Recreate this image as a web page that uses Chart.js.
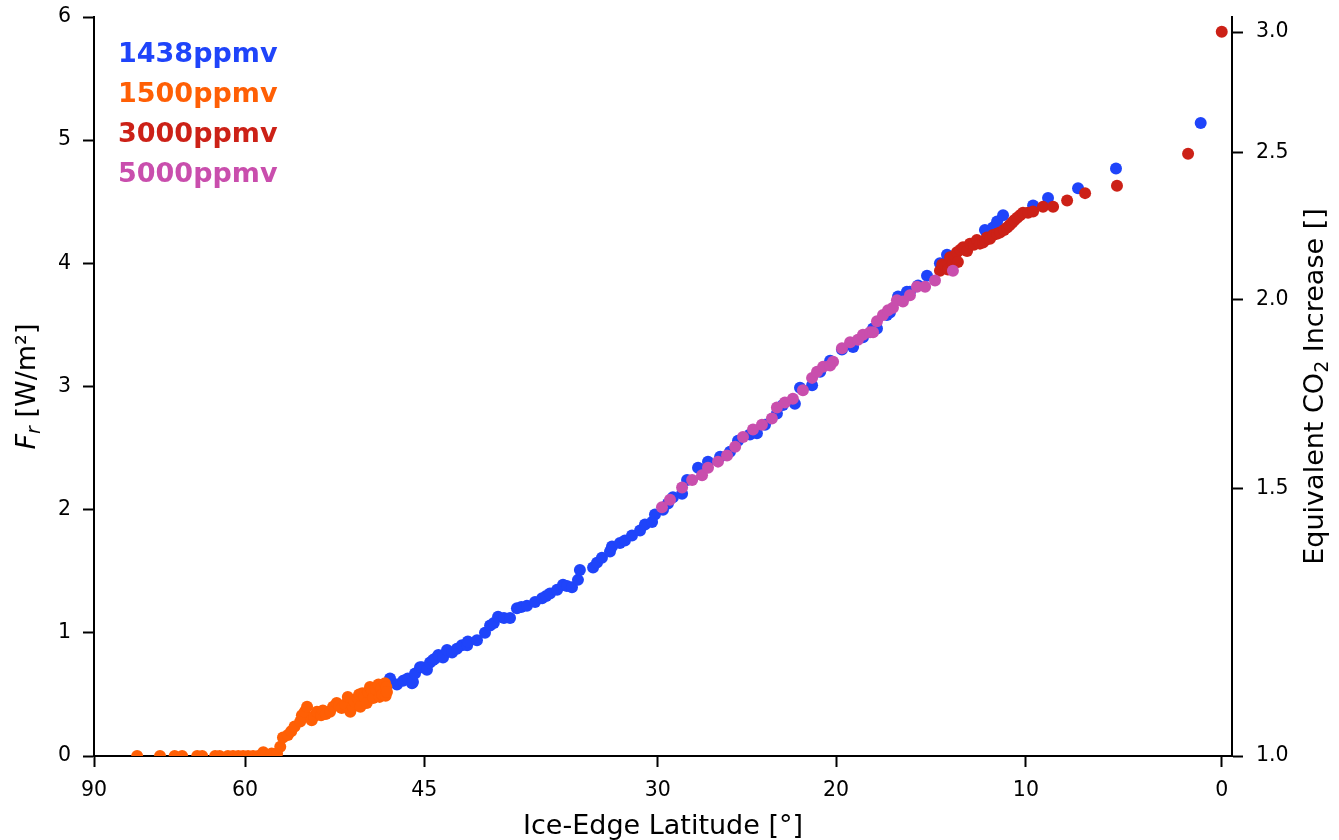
<!DOCTYPE html>
<html>
<head>
<meta charset="utf-8">
<script src="https://cdn.jsdelivr.net/npm/chart.js@4.4.1/dist/chart.umd.min.js"></script>
<style>
html,body{margin:0;padding:0;background:#fff;}
#wrap{width:1339px;height:840px;}
</style>
</head>
<body>
<div id="wrap"><canvas id="c" width="1339" height="840"></canvas></div>
<script>
// ---- data (ice-edge latitude in degrees, forcing F_r in W/m^2) ----
const seriesNames  = ['1438ppmv', '1500ppmv', '3000ppmv', '5000ppmv'];
const seriesColors = ['#1f44fa', '#ff5f05', '#cc2117', '#c94ead'];

const lat1438 = [47.52, 47.0, 46.55, 46.2, 45.89, 45.82, 45.67, 45.31, 45.17, 44.81, 44.59, 44.38, 44.24, 44.0, 43.67, 43.39, 43.04, 42.70, 42.36, 42.0, 41.95, 41.33, 40.79, 40.45, 40.2, 39.92, 39.53, 39.13, 38.68, 38.4, 38.03, 37.51, 37.06, 36.8, 36.56, 36.11, 35.74, 35.5, 35.18, 34.81, 34.69, 33.88, 33.64, 33.34, 32.85, 32.73, 32.25, 31.95, 31.53, 31.05, 30.76, 30.34, 30.17, 29.70, 29.41, 29.12, 28.59, 28.30, 27.67, 27.10, 26.41, 25.85, 25.40, 24.73, 24.34, 23.89, 23.23, 22.90, 22.24, 21.96, 21.30, 20.86, 20.32, 19.68, 19.08, 18.55, 18.01, 17.80, 17.27, 17.11, 16.68, 16.21, 16.05, 15.62, 15.15, 14.47, 14.10, 12.12, 11.70, 11.49, 11.18, 9.63, 8.86, 7.32, 5.38, 1.07];
const fr1438  = [0.63, 0.58, 0.61, 0.63, 0.59, 0.60, 0.67, 0.72, 0.72, 0.70, 0.76, 0.78, 0.79, 0.82, 0.80, 0.86, 0.84, 0.87, 0.90, 0.90, 0.93, 0.94, 1.00, 1.06, 1.08, 1.13, 1.12, 1.12, 1.20, 1.21, 1.22, 1.25, 1.28, 1.30, 1.32, 1.35, 1.39, 1.38, 1.37, 1.43, 1.51, 1.53, 1.57, 1.61, 1.66, 1.70, 1.73, 1.75, 1.79, 1.83, 1.88, 1.90, 1.96, 2.00, 2.05, 2.10, 2.13, 2.24, 2.34, 2.39, 2.43, 2.47, 2.56, 2.61, 2.62, 2.69, 2.78, 2.85, 2.86, 2.99, 3.01, 3.12, 3.21, 3.30, 3.32, 3.40, 3.47, 3.47, 3.58, 3.60, 3.73, 3.77, 3.77, 3.82, 3.90, 4.00, 4.07, 4.27, 4.29, 4.34, 4.39, 4.47, 4.53, 4.61, 4.77, 5.14];

const lat1500 = [74.1, 70.3, 68.2, 67.2, 65.3, 64.7, 63.2, 62.7, 61.8, 61.25, 60.7, 60.2, 59.7, 59.2, 58.7, 58.2, 57.4, 56.9, 56.6, 56.35, 55.9, 55.6, 55.3, 54.8, 54.65, 54.4, 54.2, 53.8, 53.6, 53.35, 53.0, 52.85, 52.6, 52.25, 52.0, 51.7, 51.5, 51.3, 51.0, 50.8, 50.6, 50.4, 50.25, 50.0, 49.9, 49.8, 49.65, 49.5, 49.3, 49.2, 49.05, 48.9, 48.8, 48.6, 48.4, 48.3, 48.2, 48.1, 47.9, 47.85, 47.8, 47.75];
const fr1500  = [0, 0, 0, 0, 0, 0, 0, 0, 0, 0, 0, 0, 0, 0, 0, 0.03, 0.02, 0.02, 0.075, 0.15, 0.17, 0.20, 0.24, 0.28, 0.33, 0.36, 0.40, 0.29, 0.32, 0.36, 0.33, 0.37, 0.34, 0.36, 0.40, 0.43, 0.41, 0.39, 0.42, 0.48, 0.36, 0.40, 0.44, 0.47, 0.50, 0.40, 0.51, 0.48, 0.43, 0.52, 0.56, 0.53, 0.47, 0.54, 0.58, 0.48, 0.55, 0.50, 0.59, 0.49, 0.56, 0.52];

const lat3000 = [14.47, 14.35, 14.20, 14.05, 13.94, 13.79, 13.7, 13.58, 13.53, 13.4, 13.26, 13.05, 12.90, 12.7, 12.54, 12.38, 12.22, 12.1, 12.02, 11.86, 11.70, 11.5, 11.34, 11.13, 10.97, 10.85, 10.71, 10.6, 10.45, 10.30, 10.15, 9.89, 9.63, 9.12, 8.60, 7.88, 6.96, 5.33, 1.71, 0.0];
const fr3000  = [3.94, 3.99, 3.98, 3.95, 4.05, 4.00, 4.06, 4.09, 4.01, 4.11, 4.13, 4.10, 4.16, 4.15, 4.19, 4.16, 4.17, 4.19, 4.21, 4.20, 4.23, 4.24, 4.25, 4.27, 4.29, 4.31, 4.33, 4.35, 4.37, 4.39, 4.41, 4.41, 4.42, 4.46, 4.46, 4.51, 4.57, 4.63, 4.89, 5.88];

const lat5000 = [29.76, 29.29, 28.59, 28.01, 27.44, 27.10, 26.53, 26.02, 25.56, 25.12, 24.56, 24.06, 23.51, 23.23, 22.79, 22.35, 21.80, 21.30, 21.03, 20.70, 20.32, 20.16, 19.68, 19.24, 18.82, 18.55, 18.17, 18.01, 17.80, 17.48, 17.21, 16.95, 16.74, 16.42, 16.05, 15.68, 15.25, 14.73, 13.79];
const fr5000  = [2.02, 2.08, 2.18, 2.24, 2.28, 2.34, 2.39, 2.44, 2.51, 2.59, 2.65, 2.69, 2.74, 2.83, 2.87, 2.90, 2.97, 3.07, 3.12, 3.16, 3.17, 3.20, 3.31, 3.36, 3.38, 3.42, 3.44, 3.44, 3.53, 3.58, 3.62, 3.64, 3.70, 3.69, 3.74, 3.81, 3.81, 3.86, 3.94];

const latTicks = [90, 60, 45, 30, 20, 10, 0];
const frTicks  = [0, 1, 2, 3, 4, 5, 6];
const co2Ticks = [1.0, 1.5, 2.0, 2.5, 3.0];
const FORCING_COEF = 5.35; // F = 5.35 ln(C/C0)

const xTitle = 'Ice-Edge Latitude [°]';

// ---- helpers ----
const D2R = Math.PI / 180;
const toX = lat => Math.sin(lat * D2R);
function pts(lat, fr) { return lat.map((l, i) => ({ x: toX(l), y: fr[i] })); }

Chart.defaults.font.family = 'DejaVu Sans';
Chart.defaults.color = '#000';

const tickFont = { family: 'DejaVu Sans', size: 20.5 };
const gridOpts = { drawOnChartArea: false, drawTicks: true, tickLength: 11, tickWidth: 2, tickColor: '#000' };
const borderOpts = { display: true, color: '#000', width: 2 };

function mkSet(i, lat, fr, order) {
  return {
    label: seriesNames[i], data: pts(lat, fr), order: order,
    backgroundColor: seriesColors[i], borderColor: seriesColors[i],
    pointRadius: 6, pointHoverRadius: 6, borderWidth: 0, pointBorderWidth: 0, showLine: false
  };
}

function drawRotated(ctx, parts, bx, cy) {
  ctx.save();
  ctx.translate(bx, cy);
  ctx.rotate(-Math.PI / 2);
  let total = 0;
  parts.forEach(p => { ctx.font = p.f; p.w = ctx.measureText(p.t).width; total += p.w; });
  let x = -total / 2;
  ctx.textAlign = 'left';
  ctx.textBaseline = 'alphabetic';
  parts.forEach(p => { ctx.font = p.f; ctx.fillText(p.t, x, p.dy || 0); x += p.w; });
  ctx.restore();
}

const textPlugin = {
  id: 'texts',
  afterDraw(chart) {
    const ctx = chart.ctx;
    const ca = chart.chartArea;
    ctx.save();
    // legend (coloured text)
    ctx.font = 'bold 27px "DejaVu Sans"';
    ctx.textAlign = 'left';
    ctx.textBaseline = 'alphabetic';
    seriesNames.forEach((n, i) => { ctx.fillStyle = seriesColors[i]; ctx.fillText(n, 118, 62 + 40 * i); });
    // x title
    ctx.fillStyle = '#000';
    ctx.font = '27px "DejaVu Sans"';
    ctx.textAlign = 'center';
    ctx.fillText(xTitle, (ca.left + ca.right) / 2, 834);
    // left y title
    const cy = (ca.top + ca.bottom) / 2;
    drawRotated(ctx, [
      { t: 'F', f: 'italic 27px "DejaVu Sans"' },
      { t: 'r', f: 'italic 19px "DejaVu Sans"', dy: 5 },
      { t: ' [W/m²]', f: '27px "DejaVu Sans"' }
    ], 35, cy);
    // right y title
    drawRotated(ctx, [
      { t: 'Equivalent CO', f: '27px "DejaVu Sans"' },
      { t: '2', f: '19px "DejaVu Sans"', dy: 5 },
      { t: ' Increase []', f: '27px "DejaVu Sans"' }
    ], 1323, cy);
    ctx.restore();
  }
};

function fixY(width) {
  return s => { s.width = width; s.paddingTop = 0; s.paddingBottom = 0; };
}

new Chart(document.getElementById('c'), {
  type: 'scatter',
  data: {
    datasets: [
      mkSet(0, lat1438, fr1438, 4),
      mkSet(1, lat1500, fr1500, 3),
      mkSet(2, lat3000, fr3000, 2),
      mkSet(3, lat5000, fr5000, 1)
    ]
  },
  options: {
    responsive: false,
    animation: false,
    events: [],
    layout: { padding: { top: 17, left: 0, right: 0, bottom: 0 } },
    plugins: { legend: { display: false }, tooltip: { enabled: false }, title: { display: false } },
    scales: {
      x: {
        type: 'linear', reverse: true, min: -0.0091, max: 1,
        afterBuildTicks: s => { s.ticks = latTicks.map(l => ({ value: toX(l) })); },
        afterFit: s => { s.height = 84; s.paddingLeft = 0; s.paddingRight = 0; },
        ticks: {
          font: tickFont, color: '#000', padding: 11, maxRotation: 0, autoSkip: false,
          callback: v => String(Math.round(Math.asin(Math.min(1, Math.max(-1, v))) / D2R))
        },
        grid: gridOpts, border: borderOpts
      },
      y: {
        type: 'linear', position: 'left', min: 0, max: 6,
        afterBuildTicks: s => { s.ticks = frTicks.map(v => ({ value: v })); },
        afterFit: fixY(94),
        ticks: { font: tickFont, color: '#000', padding: 12, callback: v => String(v) },
        grid: gridOpts, border: borderOpts
      },
      y2: {
        type: 'linear', position: 'right', min: 0, max: 6,
        afterBuildTicks: s => { s.ticks = co2Ticks.map(c => ({ value: FORCING_COEF * Math.log(c) })); },
        afterFit: fixY(107),
        ticks: { font: tickFont, color: '#000', padding: 13, callback: v => Math.exp(v / FORCING_COEF).toFixed(1) },
        grid: gridOpts, border: borderOpts
      }
    }
  },
  plugins: [textPlugin]
});
</script>
</body>
</html>
